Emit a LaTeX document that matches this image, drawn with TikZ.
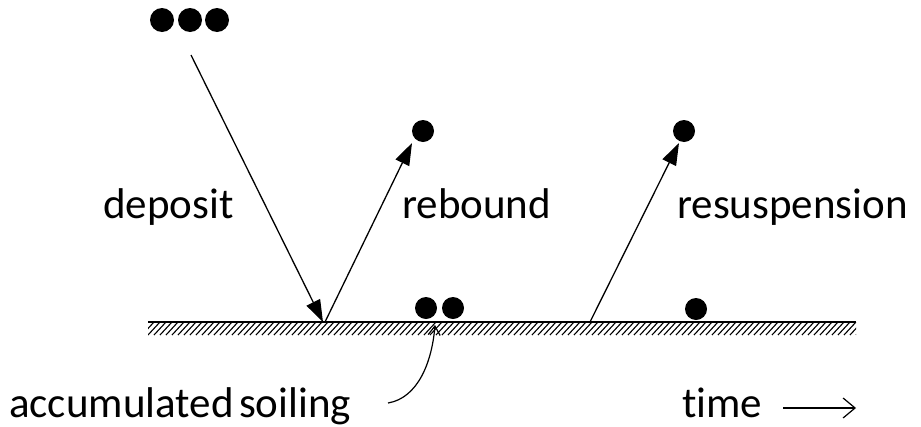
\documentclass[tikz,border=0pt]{standalone}
\usepackage{fontspec}
\setmainfont{Carlito}[Ligatures={NoCommon}]
\usetikzlibrary{arrows.meta}
\begin{document}
\begin{tikzpicture}[x=1pt,y=-1pt,
  particle/.style={circle,fill=black,inner sep=0pt,minimum size=#1},
  particle/.default=22pt,
  lbl/.style={font=\fontsize{43}{43}\selectfont,inner sep=0pt,anchor=base west},
  flow/.style={line width=1.3pt,-{Triangle[length=22pt,width=15pt]}},
  thin arrow/.style={line width=1.2pt,-{Straight Barb[length=9pt,width=12pt]}},
  time arrow/.style={line width=1.2pt,-{Straight Barb[length=12pt,width=20pt]}}]
\useasboundingbox (0,0) rectangle (921,426);

% ground surface with hatching
\begin{scope}
  \clip (148,322) rectangle (856,335);
  \foreach \x in {136,142,...,856}
    \draw[line width=1.1pt] (\x,335) -- (\x+12,322);
\end{scope}
\draw[line width=1.4pt] (148,322) -- (856,322);

% particles
\node[particle=24pt] (p1) at (162,20) {};
\node[particle=24pt] (p2) at (190,20) {};
\node[particle=24pt] (p3) at (217,20) {};
\node[particle] (rb) at (423,131) {};
\node[particle] (rs) at (684,131) {};
\node[particle] (g1) at (426,308) {};
\node[particle] (g2) at (453,308) {};
\node[particle] (g3) at (696,309) {};

% arrow end points
\coordinate (dstart) at (191,55);
\coordinate (hit) at (323,322);
\coordinate (rbstart) at (325,322);
\coordinate (rbend) at (412,143);
\coordinate (rsstart) at (590,322);
\coordinate (rsend) at (679,143);
\coordinate (soil) at (435,325);
\coordinate (tstart) at (783,408);
\coordinate (tend) at (856,408);

\draw[flow] (dstart) -- (hit);
\draw[flow] (rbstart) -- (rbend);
\draw[flow] (rsstart) -- (rsend);

% labels
\node[lbl] (dep) at (103,218) {deposit};
\node[lbl] (reb) at (402,218) {rebound};
\node[lbl] (res) at (677,218) {resuspension};
\node[lbl] (acc) at (9,417) {accumulated\hspace{-0.1em} soiling};
\node[lbl] (tim) at (682,417) {time};

\coordinate (cstart) at (388,403);
\draw[thin arrow] (cstart) .. controls (418,398) and (432,362) .. (soil);
\draw[time arrow] (tstart) -- (tend);
\end{tikzpicture}
\end{document}
